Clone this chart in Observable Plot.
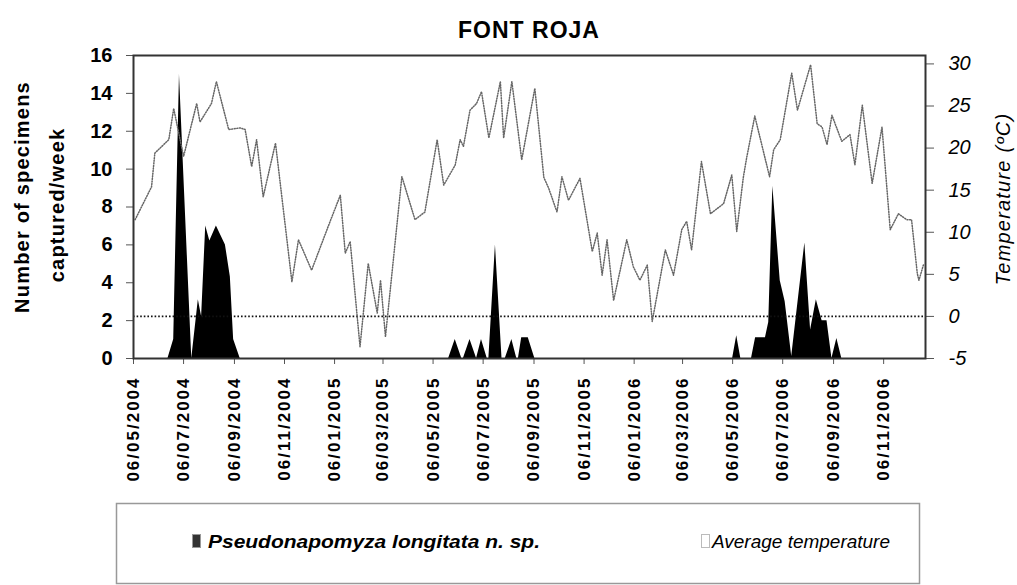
<!DOCTYPE html>
<html>
<head>
<meta charset="utf-8">
<script src="https://cdn.jsdelivr.net/npm/d3@7"></script>
<script src="https://cdn.jsdelivr.net/npm/@observablehq/plot@0.6"></script>
<style>
  html, body { margin: 0; padding: 0; background: #fff; }
  #wrap { position: relative; width: 1017px; height: 585px; overflow: hidden; font-family: "Liberation Sans", Arial, sans-serif; }
  #title { position: absolute; left: 0; width: 1058px; top: 17px; text-align: center; font-weight: bold; font-size: 23px; letter-spacing: 1px; }
  #chart { position: absolute; left: 0; top: 40px; }
  #legend { position: absolute; left: 0; top: 495px; }
</style>
</head>
<body>
<div id="wrap">
  <div id="title">FONT ROJA</div>
  <div id="chart"></div>
  <svg id="legend" width="1017" height="90"></svg>
</div>
<script>
// ---- data (days since first sampling, 06/05/2004) ----
const firstSampling = "06/05/2004";
const tempDay = [2,22,26,43,49,61,77,81,95,101,116,130,136,144,150,158,173,193,201,217,
  240,252,258,264,276,286,297,301,307,327,343,355,370,378,392,398,402,410,418,424,433,447,451,461,473,489,
  500,506,516,522,530,544,559,565,571,577,585,601,609,617,626,632,648,658,668,674,680,692,703,719,729,735,
  743,747,757,775,780,788,802,809,825,833,839,845,851,863,873,879,888,900,912,922,932,942,948,955,957,963];
const tempC = [11.5,15.4,19.4,21.0,24.7,19.0,25.3,23.1,25.3,27.9,22.2,22.4,22.2,17.8,21.0,14.2,20.6,4.1,9.1,5.5,
  11.4,14.4,7.5,8.9,-3.6,6.3,0.4,4.3,-2.4,16.6,11.5,12.4,21.0,15.6,18.0,21.0,20.2,24.5,25.3,26.7,21.2,27.9,21.2,27.9,18.6,27.1,
  16.5,15.2,12.4,16.6,13.8,16.4,7.7,9.9,4.9,9.1,1.9,9.1,5.9,4.3,6.1,-0.6,7.9,4.9,10.3,11.3,7.9,18.4,12.2,13.4,16.8,10.1,
  16.5,18.8,23.8,16.6,19.8,21.0,28.9,24.5,29.9,22.9,22.5,20.4,23.9,20.8,21.6,18.0,25.1,15.8,22.5,10.3,12.2,11.5,11.5,5.1,4.3,6.3];
const countDay = [42,49,56,71,79,83,88,93,101,112,118,122,130,
  384,392,400,402,410,418,424,431,433,441,449,453,461,467,469,473,481,489,
  730,735,740,753,758,770,774,779,788,794,802,818,825,832,839,845,851,857,863];
const countN = [0,1,15,0,3.1,2.2,7.0,6.2,7.0,6.0,4.3,1.0,0,
  0,1,0,0,1,0,1,0,0,6,0,0,1,0,0,1.1,1.1,0,
  0,1.2,0,0,1.1,1.1,1.9,9.1,4.1,3.0,0.1,6.1,1.5,3.1,2.0,2.0,0,1.05,0];
const xTickLabels = ["06/05/2004","06/07/2004","06/09/2004","06/11/2004","06/01/2005","06/03/2005",
  "06/05/2005","06/07/2005","06/09/2005","06/11/2005","06/01/2006","06/03/2006","06/05/2006",
  "06/07/2006","06/09/2006","06/11/2006"];
const countTicks = [0,2,4,6,8,10,12,14,16];
const tempTicks = [-5,0,5,10,15,20,25,30];
const lastDay = 965;

// ---- build ----
const parse = d3.utcParse("%d/%m/%Y");
const fmt = d3.utcFormat("%d/%m/%Y");
const start = parse(firstSampling);
const toDate = d => d3.utcDay.offset(start, d);
const toY = t => (t + 5) * 16 / 36;
const fromY = y => y * 36 / 16 - 5;

const temps = tempDay.map((d, i) => ({date: toDate(d), t: tempC[i]}));
const counts = countDay.map((d, i) => ({date: toDate(d), n: countN[i]}));
const tickDates = xTickLabels.map(parse);
const FF = "Liberation Sans, Arial, sans-serif";

const chart = Plot.plot({
  width: 1017, height: 460,
  marginTop: 15, marginBottom: 142, marginLeft: 133, marginRight: 92,
  style: {fontFamily: FF, background: "white", color: "#000", overflow: "visible"},
  x: {type: "utc", domain: [start, toDate(lastDay)]},
  y: {domain: [0, 16]},
  marks: [
    Plot.areaY(counts, {x: "date", y: "n", fill: "#000"}),
    Plot.ruleY([toY(0)], {stroke: "#111", strokeWidth: 1.6, strokeDasharray: "1.6,2"}),
    Plot.lineY(temps, {x: "date", y: d => toY(d.t), stroke: "#666", strokeWidth: 1.5, strokeDasharray: "1,1.6"}),
    Plot.axisY(countTicks, {anchor: "left", tickSize: 7, tickPadding: 14, fontSize: 20, fontWeight: "bold", label: null, stroke: "#555"}),
    Plot.axisY(tempTicks.map(toY), {anchor: "right", tickSize: 8, tickPadding: 15, fontSize: 20, fontStyle: "italic", label: null,
      tickFormat: v => String(Math.round(fromY(v))), stroke: "#555"}),
    Plot.axisX(tickDates, {tickRotate: -90, tickSize: 6, tickPadding: 12, fontSize: 17, fontWeight: "bold", label: null,
      tickFormat: fmt, stroke: "#555"}),
    Plot.text(["Number of specimens"], {frameAnchor: "left", textAnchor: "middle", dx: -111, dy: -10, rotate: -90, fontSize: 20, fontWeight: "bold"}),
    Plot.text(["captured/week"], {frameAnchor: "left", textAnchor: "middle", dx: -76, dy: -2, rotate: -90, fontSize: 20, fontWeight: "bold"}),
    Plot.text(["Temperature (ºC)"], {frameAnchor: "right", textAnchor: "middle", dx: 78, dy: -8, rotate: -90, fontSize: 20, fontStyle: "italic"}),
    Plot.frame({stroke: "#333", strokeWidth: 2})
  ]
});
document.getElementById("chart").appendChild(chart);

// letter spacing like the original Excel rendering
d3.select(chart).selectAll('g[aria-label="x-axis tick label"] text').style("letter-spacing", "2px");
d3.select(chart).selectAll('g[aria-label="text"] text').style("letter-spacing", "1.2px");

// ---- legend ----
const lg = d3.select("#legend");
lg.append("rect").attr("x", 116.5).attr("y", 8.5).attr("width", 803).attr("height", 80)
  .attr("fill", "none").attr("stroke", "#999").attr("stroke-width", 1.5);
lg.append("rect").attr("x", 192.5).attr("y", 39.5).attr("width", 8).attr("height", 13)
  .attr("fill", "#333").attr("stroke", "#999");
lg.append("text").attr("x", 208).attr("y", 53).attr("font-family", FF).attr("font-size", 18)
  .attr("font-weight", "bold").attr("font-style", "italic")
  .attr("textLength", 332).attr("lengthAdjust", "spacingAndGlyphs")
  .text("Pseudonapomyza longitata n. sp.");
lg.append("rect").attr("x", 701.5).attr("y", 39.5).attr("width", 8).attr("height", 13)
  .attr("fill", "none").attr("stroke", "#777").attr("stroke-dasharray", "1,1");
lg.append("text").attr("x", 712).attr("y", 53).attr("font-family", FF).attr("font-size", 18)
  .attr("font-style", "italic")
  .attr("textLength", 178).attr("lengthAdjust", "spacingAndGlyphs")
  .text("Average temperature");
</script>
</body>
</html>
